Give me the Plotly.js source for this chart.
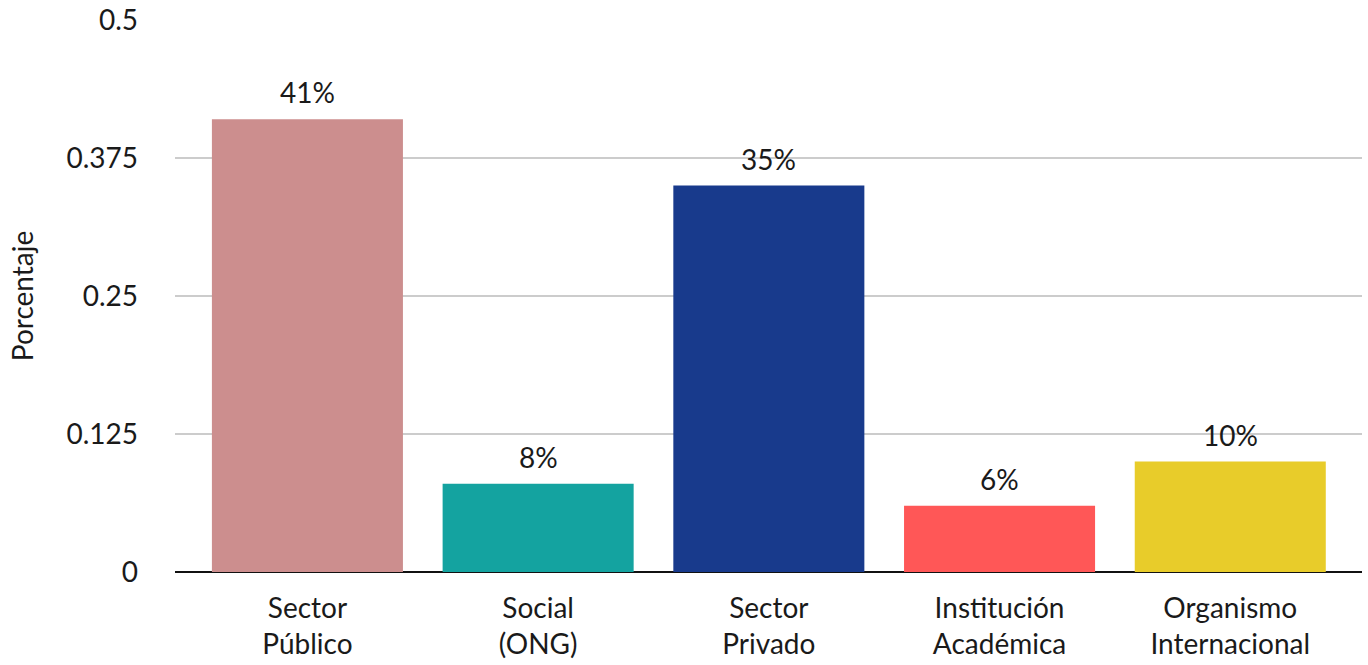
<!DOCTYPE html>
<html><head><meta charset="utf-8">
<script src="https://cdn.plot.ly/plotly-3.0.1.min.js"></script>
<style>html,body{margin:0;padding:0;background:#fff}#chart{width:1368px;height:665px}</style>
</head><body><div id="chart"></div>
<script>
const categories = ["Sector<br>Público", "Social<br>(ONG)", "Sector<br>Privado", "Institución<br>Académica", "Organismo<br>Internacional"];
const values = [0.41, 0.08, 0.35, 0.06, 0.10];
const barColors = ["#CC8E8E", "#14A3A0", "#183A8C", "#FF5757", "#E8CC2A"];
const yTicks = [0, 0.125, 0.25, 0.375, 0.5];
const yTickLabels = ["0", "0.125", "0.25", "0.375", "0.5"];

const font = "Lato, 'Noto Sans', sans-serif";
const trace = {
  type: "bar",
  x: categories,
  y: values,
  marker: {color: barColors},
  hoverinfo: "skip"
};
const annotations = categories.map((c, i) => ({
  x: c, y: values[i], xref: "x", yref: "y",
  text: Math.round(values[i] * 100) + "%",
  showarrow: false, yanchor: "bottom", yshift: 8,
  font: {family: font, size: 28, color: "#1a1a1a"}
}));
const layout = {
  width: 1368, height: 665,
  margin: {l: 175, r: 6, t: 20, b: 93},
  paper_bgcolor: "#fff", plot_bgcolor: "#fff",
  font: {family: font, color: "#1a1a1a"},
  bargap: 0.172,
  showlegend: false,
  annotations: annotations,
  xaxis: {
    type: "category",
    range: [-0.574, 4.571],
    tickfont: {family: font, size: 28, color: "#1a1a1a"},
    showgrid: false, showline: false, zeroline: false,
    ticks: "", ticklabelstandoff: 17
  },
  yaxis: {
    range: [0, 0.5],
    tickvals: yTicks, ticktext: yTickLabels,
    tickfont: {family: font, size: 28, color: "#1a1a1a"},
    showgrid: true, gridcolor: "#cccccc", gridwidth: 1.3,
    zeroline: true, zerolinecolor: "#111", zerolinewidth: 2.5,
    ticks: "", ticklabelstandoff: 36,
    title: {text: "Porcentaje", font: {family: font, size: 28, color: "#1a1a1a"}, standoff: 24}
  }
};
Plotly.newPlot("chart", [trace], layout, {displayModeBar: false, staticPlot: true});
</script></body></html>
